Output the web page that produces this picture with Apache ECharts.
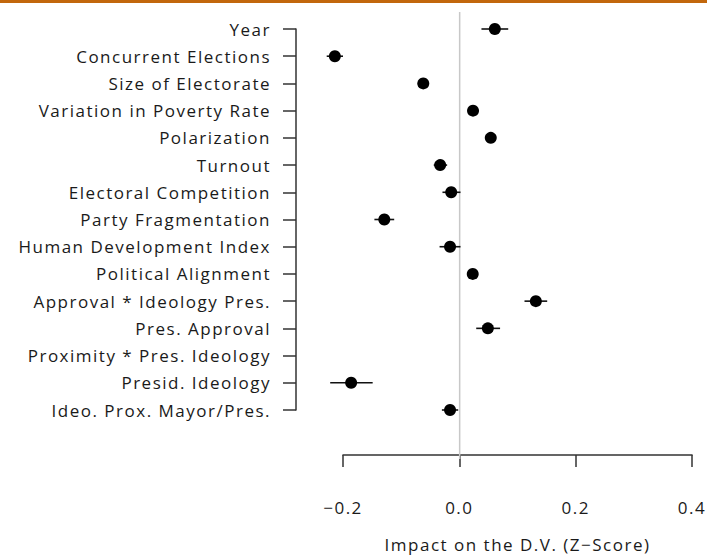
<!DOCTYPE html>
<html><head><meta charset="utf-8">
<script src="https://cdn.jsdelivr.net/npm/echarts@6/dist/echarts.min.js"></script>
<style>html,body{margin:0;padding:0;background:#fff;overflow:hidden;}#top{position:absolute;left:0;top:0;width:707px;height:3px;background:#c2670c;z-index:5;}#c{position:absolute;left:0;top:0;width:707px;height:558px;}#c text{letter-spacing:1.5px;}</style>
</head><body><div id="c"></div><div id="top"></div>
<script>
const categories = ["Year","Concurrent Elections","Size of Electorate","Variation in Poverty Rate","Polarization","Turnout","Electoral Competition","Party Fragmentation","Human Development Index","Political Alignment","Approval * Ideology Pres.","Pres. Approval","Proximity * Pres. Ideology","Presid. Ideology","Ideo. Prox. Mayor/Pres."];
const estimates = [0.061,-0.214,-0.062,0.0235,0.054,-0.033,-0.014,-0.129,-0.016,0.023,0.1315,0.049,null,-0.186,-0.016];
const lower = [0.038,-0.228,-0.065,0.021,0.051,-0.044,-0.029,-0.146,-0.034,0.020,0.112,0.029,null,-0.222,-0.030];
const upper = [0.084,-0.200,-0.059,0.026,0.057,-0.021,0.002,-0.112,0.002,0.026,0.151,0.070,null,-0.149,-0.002];
const xTicks = [-0.2,0.0,0.2,0.4];

const font = '"Open Sans", "Noto Sans", sans-serif';
const chart = echarts.init(document.getElementById('c'), null, {renderer:'svg', width:707, height:558});
const errData = categories.map((c,i)=> lower[i]==null?null:[lower[i],upper[i],i]).filter(d=>d);
const ptData = categories.map((c,i)=> estimates[i]==null?null:[estimates[i],i]).filter(d=>d);
chart.setOption({
  animation:false,
  grid:[
    {left:343,right:14,top:29,height:385,containLabel:false},
    {left:343,right:14,top:12,height:447}
  ],
  xAxis:[
    {gridIndex:0,type:'value',min:-0.2,max:0.4,interval:0.2,offset:45,
     axisLine:{show:true,lineStyle:{color:'#333',width:1.5}},
     axisTick:{show:true,length:12,lineStyle:{color:'#333',width:1.5}},
     splitLine:{show:false},
     axisLabel:{margin:44,fontSize:17,color:'#1a1a1a',fontFamily:font,
       formatter:v=>{const t=xTicks.find(x=>Math.abs(x-v)<1e-9);return (t==null?v:t).toFixed(1).replace('-','\u2212');}},
     name:'Impact on the D.V. (Z\u2212Score)',nameLocation:'middle',nameGap:81,
     nameTextStyle:{fontSize:17,color:'#1a1a1a',fontFamily:font}},
    {gridIndex:1,type:'value',min:-0.2,max:0.4,show:false}
  ],
  yAxis:[
    {gridIndex:0,type:'category',data:categories,inverse:true,boundaryGap:false,offset:47,
     axisLine:{show:true,onZero:false,lineStyle:{color:'#333',width:1.5}},
     axisTick:{show:true,length:13,alignWithLabel:true,lineStyle:{color:'#333',width:1.5}},
     splitLine:{show:false},
     axisLabel:{margin:25,fontSize:17,color:'#1a1a1a',fontFamily:font,interval:0}},
    {gridIndex:1,type:'value',min:0,max:1,show:false}
  ],
  series:[
    {type:'line',xAxisIndex:1,yAxisIndex:1,data:[[0,0],[0,1]],symbol:'none',
     lineStyle:{color:'#c8c8c8',width:1.5},z:1,silent:true},
    {type:'custom',xAxisIndex:0,yAxisIndex:0,data:errData,z:2,clip:false,
     renderItem:(params,api)=>{
       const a=api.coord([api.value(0),api.value(2)]);
       const b=api.coord([api.value(1),api.value(2)]);
       return {type:'line',shape:{x1:a[0],y1:a[1],x2:b[0],y2:b[1]},style:{stroke:'#111',lineWidth:1.6}};
     }},
    {type:'scatter',xAxisIndex:0,yAxisIndex:0,data:ptData,symbol:'circle',symbolSize:12,clip:false,
     itemStyle:{color:'#000',opacity:1},z:3}
  ]
});
</script></body></html>
